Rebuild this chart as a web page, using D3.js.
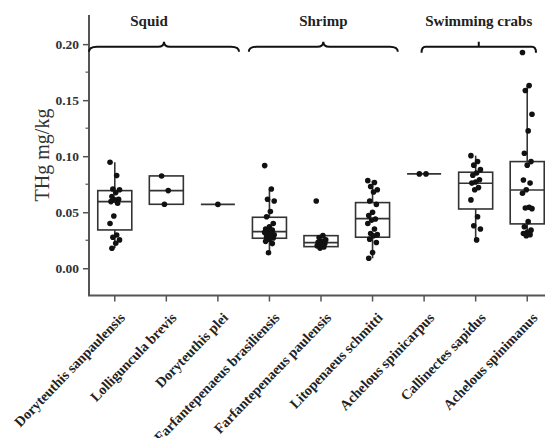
<!DOCTYPE html>
<html>
<head>
<meta charset="utf-8">
<script src="https://cdn.jsdelivr.net/npm/d3@7"></script>
<style>
  body { margin: 0; background: #fff; }
  svg { display: block; }
  text { font-family: "Liberation Serif", "Times New Roman", serif; }
</style>
</head>
<body>
<div id="chart"></div>
<script>
// Species, groups and THg values (mg/kg)
const categories = [
  "Doryteuthis sanpaulensis", "Lolliguncula brevis", "Doryteuthis plei",
  "Farfantepenaeus brasiliensis", "Farfantepenaeus paulensis", "Litopenaeus schmitti",
  "Achelous spinicarpus", "Callinectes sapidus", "Achelous spinimanus"
];
const groups = ["Squid", "Shrimp", "Swimming crabs"];

const q1          = [0.0342, 0.0571, 0.0570, 0.0268, 0.0193, 0.0277, 0.0842, 0.0529, 0.0396];
const median      = [0.0595, 0.0693, 0.0570, 0.0327, 0.0229, 0.0443, 0.0842, 0.0759, 0.0699];
const q3          = [0.0693, 0.0824, 0.0570, 0.0455, 0.0291, 0.0586, 0.0842, 0.0857, 0.0952];
const whiskerLow  = [0.0179, 0.0571, 0.0570, 0.0139, 0.0178, 0.0089, 0.0842, 0.0253, 0.0288];
const whiskerHigh = [0.0946, 0.0824, 0.0570, 0.0708, 0.0291, 0.0782, 0.0842, 0.1005, 0.1630];

const points = [
  [0.0946, 0.0827, 0.0708, 0.0700, 0.0675, 0.0640, 0.0616, 0.0610, 0.0595, 0.0580, 0.0467, 0.0400, 0.0297, 0.0277, 0.0253, 0.0223, 0.0179],
  [0.0824, 0.0693, 0.0571],
  [0.0570],
  [0.0916, 0.0708, 0.0616, 0.0600, 0.0506, 0.0460, 0.0400, 0.0370, 0.0350, 0.0340, 0.0330, 0.0320, 0.0310, 0.0300, 0.0298, 0.0290, 0.0282, 0.0270, 0.0260, 0.0240, 0.0220, 0.0139],
  [0.0600, 0.0291, 0.0275, 0.0255, 0.0240, 0.0232, 0.0222, 0.0212, 0.0200, 0.0190, 0.0180],
  [0.0782, 0.0765, 0.0730, 0.0700, 0.0680, 0.0600, 0.0570, 0.0500, 0.0470, 0.0440, 0.0430, 0.0400, 0.0350, 0.0310, 0.0300, 0.0290, 0.0260, 0.0230, 0.0140, 0.0089],
  [0.0842, 0.0842],
  [0.1005, 0.0953, 0.0920, 0.0880, 0.0850, 0.0830, 0.0790, 0.0770, 0.0760, 0.0720, 0.0700, 0.0610, 0.0460, 0.0380, 0.0350, 0.0253],
  [0.1925, 0.1630, 0.1586, 0.1375, 0.1226, 0.1027, 0.0952, 0.0920, 0.0788, 0.0760, 0.0700, 0.0670, 0.0545, 0.0538, 0.0532, 0.0416, 0.0370, 0.0340, 0.0320, 0.0310, 0.0300, 0.0290]
];

const yTicks = [0, 0.05, 0.10, 0.15, 0.20];
const yMinor = [0.025, 0.075, 0.125, 0.175];

// layout: brace extent per group, in category units
const braceSpan = [[-0.5, 2.41], [2.6, 5.49], [5.95, 8.17]];

let width = 545, height = 438;
let plotLeft = 89, plotBottom = 295.5, plotTop = 15, plotRight = 553;

let svg = d3.select("#chart").append("svg")
    .attr("width", width)
    .attr("height", height);

let x = d3.scaleBand().domain(categories).range([plotLeft, plotRight]).padding(0);
let y = d3.scaleLinear().domain([-0.0243, 0.226]).range([plotBottom, plotTop]);
let bw = x.bandwidth();
let boxW = bw * 0.66;
let cx = i => x(categories[i]) + bw / 2;
let pos = p => plotLeft + (p + 0.5) * bw;

const axisColor = "#555";
const boxColor = "#333";

// y axis
let yAxis = svg.append("g").attr("transform", `translate(${plotLeft},0)`)
    .call(d3.axisLeft(y).tickValues(yTicks).tickFormat(d3.format(".2f")).tickSize(6).tickPadding(4));
yAxis.select(".domain").remove();
yAxis.selectAll("line").attr("stroke", axisColor).attr("stroke-width", 1.5);
yAxis.selectAll("text").attr("fill", "#333").attr("font-weight", "bold")
    .attr("font-size", 13.5);

svg.append("g").selectAll("line").data(yMinor).join("line")
    .attr("x1", plotLeft - 3.5).attr("x2", plotLeft)
    .attr("y1", d => y(d)).attr("y2", d => y(d))
    .attr("stroke", axisColor).attr("stroke-width", 1.2);

// x axis
let xAxis = svg.append("g").attr("transform", `translate(0,${plotBottom})`)
    .call(d3.axisBottom(x).tickSize(6).tickFormat(""));
xAxis.select(".domain").remove();
xAxis.selectAll("line").attr("stroke", axisColor).attr("stroke-width", 1.5);

svg.append("line").attr("x1", plotLeft).attr("x2", plotLeft).attr("y1", plotTop).attr("y2", plotBottom)
    .attr("stroke", axisColor).attr("stroke-width", 2);
svg.append("line").attr("x1", plotLeft - 1).attr("x2", width).attr("y1", plotBottom).attr("y2", plotBottom)
    .attr("stroke", axisColor).attr("stroke-width", 2);

// rotated species labels
svg.append("g").selectAll("text").data(categories).join("text")
    .attr("transform", (d, i) => `translate(${cx(i) + 11},${plotBottom + 23}) rotate(-46)`)
    .attr("text-anchor", "end")
    .attr("font-size", 14.2)
    .attr("font-weight", "bold")
    .attr("fill", "#222")
    .text(d => d);

// y title
svg.append("text")
    .attr("transform", "translate(42,155) rotate(-90)")
    .attr("text-anchor", "middle")
    .attr("dominant-baseline", "central")
    .attr("font-size", 20)
    .attr("fill", "#333")
    .text("THg mg/kg");

// boxes
let boxes = svg.append("g").selectAll("g").data(categories).join("g");

boxes.append("line")
    .attr("x1", (d, i) => cx(i)).attr("x2", (d, i) => cx(i))
    .attr("y1", (d, i) => y(whiskerLow[i])).attr("y2", (d, i) => y(whiskerHigh[i]))
    .attr("stroke", boxColor).attr("stroke-width", 1.6);

boxes.append("rect")
    .attr("x", (d, i) => cx(i) - boxW / 2)
    .attr("width", boxW)
    .attr("y", (d, i) => y(q3[i]))
    .attr("height", (d, i) => y(q1[i]) - y(q3[i]))
    .attr("fill", "#fff")
    .attr("stroke", boxColor).attr("stroke-width", 1.6);

boxes.append("line")
    .attr("x1", (d, i) => cx(i) - boxW / 2).attr("x2", (d, i) => cx(i) + boxW / 2)
    .attr("y1", (d, i) => y(median[i])).attr("y2", (d, i) => y(median[i]))
    .attr("stroke", boxColor).attr("stroke-width", 1.6);

// jittered points (fixed pattern so the plot is repeatable)
let jitter = j => (((j * 7) % 11) - 5) * 0.95;
boxes.each(function (d, i) {
    d3.select(this).selectAll("circle").data(points[i]).join("circle")
        .attr("cx", (v, j) => cx(i) + (points[i].length > 1 ? jitter(j) : 0))
        .attr("cy", v => y(v))
        .attr("r", 2.8)
        .attr("fill", "#111");
});

// group braces: curly for the first two, square bracket for the crabs
function curly(x0, x1, yy) {
    let xm = (x0 + x1) / 2;
    return `M${x0},${yy + 5} Q${x0},${yy} ${x0 + 8},${yy} L${xm - 6},${yy} Q${xm},${yy} ${xm},${yy - 5}` +
        ` Q${xm},${yy} ${xm + 6},${yy} L${x1 - 8},${yy} Q${x1},${yy} ${x1},${yy + 5}`;
}
function square(x0, x1, yy) {
    let xm = (x0 + x1) / 2;
    return `M${x0},${yy + 6} Q${x0},${yy} ${x0 + 4},${yy} L${x1 - 4},${yy} Q${x1},${yy} ${x1},${yy + 6}` +
        ` M${xm},${yy} L${xm},${yy - 5}`;
}

let braceY = 46.7;
svg.append("g").selectAll("path").data(groups).join("path")
    .attr("d", (d, i) => (i < 2 ? curly : square)(pos(braceSpan[i][0]), pos(braceSpan[i][1]), braceY))
    .attr("fill", "none")
    .attr("stroke", "#111")
    .attr("stroke-width", 2);

svg.append("g").selectAll("text").data(groups).join("text")
    .attr("x", (d, i) => (pos(braceSpan[i][0]) + pos(braceSpan[i][1])) / 2 - (i === 0 ? 15 : 0))
    .attr("y", 26)
    .attr("text-anchor", "middle")
    .attr("font-size", 15)
    .attr("font-weight", "bold")
    .attr("fill", "#222")
    .text(d => d);
</script>
</body>
</html>
